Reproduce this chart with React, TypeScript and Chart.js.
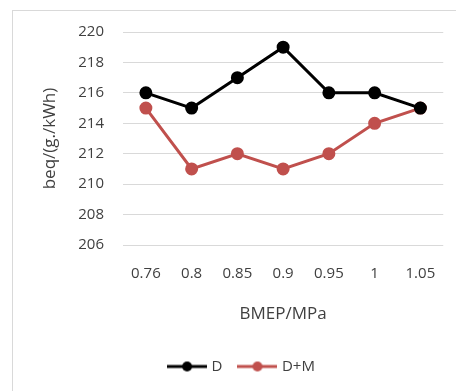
import React, { useEffect, useRef } from "react";
import { Chart, registerables } from "chart.js";

Chart.register(...registerables);

const categories = ["0.76", "0.8", "0.85", "0.9", "0.95", "1", "1.05"];
const seriesD = [216, 215, 217, 219, 216, 216, 215];
const seriesDM = [215, 211, 212, 211, 212, 214, 215];
const yMin = 206;
const yMax = 220;
const yStep = 2;

const FONT = "'Open Sans', 'Noto Sans', sans-serif";
const TEXT = "#404040";

function legendIcon(color: string) {
  const c = document.createElement("canvas");
  c.width = 40;
  c.height = 12;
  const g = c.getContext("2d")!;
  g.strokeStyle = color;
  g.lineWidth = 3;
  g.beginPath();
  g.moveTo(0, 6);
  g.lineTo(40, 6);
  g.stroke();
  g.fillStyle = color;
  g.beginPath();
  g.arc(20, 6, 5, 0, Math.PI * 2);
  g.fill();
  return c;
}

const shiftLegend = {
  id: "shiftLegend",
  afterLayout(chart: any) {
    const l = chart.legend;
    if (l) {
      l.left += 9;
      l.right += 9;
    }
  },
};

export default function App() {
  const ref = useRef<HTMLCanvasElement>(null);
  useEffect(() => {
    const iconD = legendIcon("#000000");
    const iconDM = legendIcon("#C0504D");
    const chart = new Chart(ref.current!, {
      type: "line",
      data: {
        labels: categories,
        datasets: [
          {
            label: "D",
            data: seriesD,
            borderColor: "#000000",
            backgroundColor: "#000000",
            borderWidth: 3,
            pointRadius: 5,
            pointStyle: "circle",
          },
          {
            label: "D+M",
            data: seriesDM,
            borderColor: "#C0504D",
            backgroundColor: "#C0504D",
            borderWidth: 3,
            pointRadius: 5,
            pointStyle: "circle",
          },
        ],
      },
      plugins: [shiftLegend],
      options: {
        animation: false,
        responsive: false,
        events: [],
        layout: { padding: { left: 22, right: 11, top: 32, bottom: 7 } },
        plugins: {
          tooltip: { enabled: false },
          legend: {
            position: "bottom",
            labels: {
              usePointStyle: true,
              pointStyleWidth: 34,
              padding: 18,
              color: TEXT,
              font: { family: FONT, size: 15 },
              generateLabels: () => [
                { text: "D", pointStyle: iconD as any, fontColor: TEXT, lineWidth: 0, strokeStyle: "transparent", fillStyle: "transparent", datasetIndex: 0 } as any,
                { text: "D+M", pointStyle: iconDM as any, fontColor: TEXT, lineWidth: 0, strokeStyle: "transparent", fillStyle: "transparent", datasetIndex: 1 } as any,
              ],
            },
          },
        },
        scales: {
          x: {
            offset: true,
            grid: { display: false, drawTicks: false },
            border: { display: false },
            ticks: { color: TEXT, font: { family: FONT, size: 15 }, padding: 20, maxRotation: 0, autoSkip: false },
            title: {
              display: true,
              text: "BMEP/MPa",
              color: TEXT,
              font: { family: FONT, size: 17 },
              padding: { top: 20, bottom: 17 },
            },
            afterFit: (s: any) => {
              s.height = 96;
            },
          },
          y: {
            min: yMin,
            max: yMax,
            grid: { color: "#d9d9d9", lineWidth: 1, drawTicks: false },
            border: { display: false },
            ticks: { stepSize: yStep, color: TEXT, font: { family: FONT, size: 15 }, padding: 19 },
            title: {
              display: true,
              text: "beq/(g./kWh)",
              color: TEXT,
              font: { family: FONT, size: 17 },
              padding: { top: 18, bottom: 0 },
            },
            afterFit: (s: any) => {
              s.width = 101;
            },
          },
        },
      },
    });
    return () => chart.destroy();
  }, []);
  return (
    <div style={{ position: "fixed", left: 0, top: 0, width: 456, height: 391, background: "#fff", overflow: "hidden" }}>
      <div style={{ position: "absolute", left: 12, top: 10, width: 470, height: 420, border: "1px solid #d9d9d9" }} />
      <canvas ref={ref} width={456} height={391} style={{ position: "absolute", left: 0, top: 0 }} />
    </div>
  );
}
